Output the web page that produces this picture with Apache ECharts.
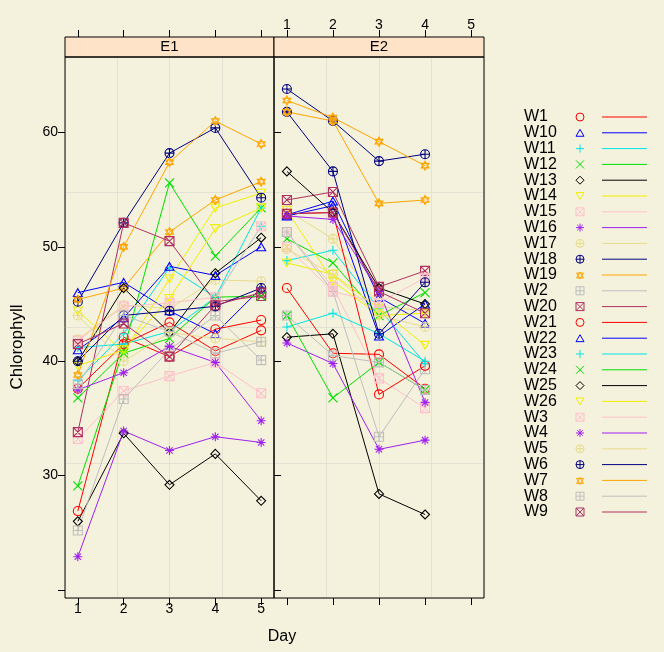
<!DOCTYPE html>
<html><head><meta charset="utf-8">
<script src="https://cdn.jsdelivr.net/npm/echarts@6/dist/echarts.min.js"></script>
<style>html,body{margin:0;padding:0;background:#F4F2DC;}#c{width:664px;height:652px;}</style>
</head><body><div id="c"></div>
<script>
// ---------- data ----------
const days = [1, 2, 3, 4, 5];
const xTicks = [1, 2, 3, 4, 5];
const yTicks = [20, 30, 40, 50, 60];
const yTickLabels = [30, 40, 50, 60];
const panels = ['E1', 'E2'];
const seriesNames = ['W1','W10','W11','W12','W13','W14','W15','W16','W17','W18','W19','W2','W20',
                     'W21','W22','W23','W24','W25','W26','W3','W4','W5','W6','W7','W8','W9'];

// panel E1 (days 1-5)
const W1_E1  = [26.9, 42.1, 40.4, 42.8, 43.6];
const W10_E1 = [46.0, 46.9, 44.4, 42.4, 46.4];
const W11_E1 = [38.3, 42.4, 48.2, 45.6, 51.8];
const W12_E1 = [29.1, 41.0, 55.6, 49.2, 53.4];
const W13_E1 = [26.0, 33.7, 29.2, 31.9, 27.8];
const W14_E1 = [44.4, 40.8, 47.2, 53.4, 54.7];
const W15_E1 = [33.2, 37.4, 38.7, 39.9, 37.2];
const W16_E1 = [22.9, 33.9, 32.2, 33.4, 32.9];
const W17_E1 = [41.9, 44.9, 44.6, 47.1, 47.0];
const W18_E1 = [45.2, 52.1, 58.2, 60.4, 54.3];
const W19_E1 = [45.4, 46.4, 51.3, 54.1, 55.7];
const W2_E1  = [25.2, 36.7, 41.0, 44.0, 40.1];
const W20_E1 = [33.8, 52.1, 50.5, 45.2, 45.7];
const W21_E1 = [37.6, 41.5, 43.4, 40.9, 42.7];
const W22_E1 = [41.0, 43.8, 48.3, 47.5, 50.0];
const W23_E1 = [41.2, 41.5, 42.6, 45.6, 53.4];
const W24_E1 = [36.8, 40.7, 42.0, 45.6, 45.7];
const W25_E1 = [40.0, 46.4, 42.5, 47.7, 50.8];
const W26_E1 = [39.6, 41.0, 45.5, 51.6, 53.4];
const W3_E1  = [41.8, 44.8, 45.1, 45.6, 51.8];
const W4_E1  = [37.5, 39.0, 41.3, 39.9, 34.8];
const W5_E1  = [44.0, 40.0, 42.5, 42.0, 41.7];
const W6_E1  = [40.0, 44.0, 44.4, 44.8, 46.4];
const W7_E1  = [38.8, 50.0, 57.4, 61.0, 59.0];
const W8_E1  = [38.0, 44.0, 42.6, 40.7, 41.7];
const W9_E1  = [41.5, 43.3, 40.4, 44.9, 46.0];

// panel E2 (days 1-4)
const W1_E2  = [46.4, 40.7, 40.6, 37.6];
const W10_E2 = [52.8, 54.0, 45.6, 43.3];
const W11_E2 = [48.8, 49.7, 44.6, 39.8];
const W12_E2 = [50.7, 48.6, 44.0, 46.0];
const W13_E2 = [42.1, 42.4, 28.4, 26.6];
const W14_E2 = [53.2, 47.0, 44.0, 44.2];
const W15_E2 = [51.3, 46.5, 38.5, 35.9];
const W16_E2 = [41.6, 39.8, 32.3, 33.1];
const W17_E2 = [53.2, 50.7, 44.8, 44.4];
const W18_E2 = [63.8, 61.0, 57.5, 58.1];
const W19_E2 = [62.8, 61.3, 59.2, 57.1];
const W2_E2  = [51.3, 46.1, 33.4, 39.3];
const W20_E2 = [54.1, 54.8, 46.5, 47.9];
const W21_E2 = [52.9, 53.0, 37.1, 39.6];
const W22_E2 = [52.7, 53.6, 42.2, 45.0];
const W23_E2 = [43.0, 44.2, 42.4, 40.0];
const W24_E2 = [44.0, 36.8, 39.9, 37.5];
const W25_E2 = [56.6, 53.0, 46.4, 45.0];
const W26_E2 = [48.6, 47.6, 44.6, 41.4];
const W3_E2  = [50.0, 46.1, 45.1, 47.3];
const W4_E2  = [52.7, 52.4, 46.1, 36.4];
const W5_E2  = [49.8, 47.6, 44.0, 43.0];
const W6_E2  = [61.8, 56.6, 42.4, 46.9];
const W7_E2  = [61.8, 61.0, 53.8, 54.1];
const W8_E2  = [44.0, 40.5, 39.9, 37.5];
const W9_E2  = [52.9, 53.0, 46.1, 44.2];

const E1 = {W1:W1_E1,W10:W10_E1,W11:W11_E1,W12:W12_E1,W13:W13_E1,W14:W14_E1,W15:W15_E1,W16:W16_E1,W17:W17_E1,
  W18:W18_E1,W19:W19_E1,W2:W2_E1,W20:W20_E1,W21:W21_E1,W22:W22_E1,W23:W23_E1,W24:W24_E1,W25:W25_E1,W26:W26_E1,
  W3:W3_E1,W4:W4_E1,W5:W5_E1,W6:W6_E1,W7:W7_E1,W8:W8_E1,W9:W9_E1};
const E2 = {W1:W1_E2,W10:W10_E2,W11:W11_E2,W12:W12_E2,W13:W13_E2,W14:W14_E2,W15:W15_E2,W16:W16_E2,W17:W17_E2,
  W18:W18_E2,W19:W19_E2,W2:W2_E2,W20:W20_E2,W21:W21_E2,W22:W22_E2,W23:W23_E2,W24:W24_E2,W25:W25_E2,W26:W26_E2,
  W3:W3_E2,W4:W4_E2,W5:W5_E2,W6:W6_E2,W7:W7_E2,W8:W8_E2,W9:W9_E2};

// ---------- styles ----------
const palette = ['#FF0000','#0000FF','#00E5E5','#00E000','#000000','#F0F000','#FFC0CB','#A020F0',
                 '#E8DC8C','#000080','#FFA500','#BEBEBE','#B03060'];
const C = 'M0,5A5,5 0 1,0 10,5A5,5 0 1,0 0,5Z';
const shapes = [
  C,
  'M5,0L10,8.66L0,8.66Z',
  'M5,0L5,10M0,5L10,5',
  'M0,0L10,10M10,0L0,10',
  'M5,0L10,5L5,10L0,5Z',
  'M0,0L10,0L5,8.66Z',
  'M0,0L10,0L10,10L0,10ZM0,0L10,10M10,0L0,10',
  'M5,0L5,10M0,5L10,5M1.5,1.5L8.5,8.5M8.5,1.5L1.5,8.5',
  C + 'M5,0L5,10M0,5L10,5',
  C + 'M5,0L5,10M0,5L10,5',
  'M5,0L9.33,7.5L0.67,7.5ZM5,10L0.67,2.5L9.33,2.5Z',
  'M0,0L10,0L10,10L0,10ZM5,0L5,10M0,5L10,5',
  'M0,0L10,0L10,10L0,10ZM0,0L10,10M10,0L0,10'
];
const FONT = '"Liberation Sans", Arial, Helvetica, sans-serif';
const BG = '#F4F2DC';
const STRIP = '#FFE3C8';
const GRIDC = '#E4E2D4';
const YMIN = 19.3, YMAX = 66.6, XMIN = 0.72, XMAX = 5.28;
const G = [{left:65, top:57, width:209, height:541}, {left:274, top:57, width:210, height:541}];

function xMain(gi, pos, labels, offset, margin) {
  return {type:'value', gridIndex:gi, position:pos, offset:offset||0, min:XMIN, max:XMAX,
    axisLine:{show:false}, splitLine:{show:false},
    axisTick:{show:true, length:7, inside:false, lineStyle:{color:'#000', width:1}, customValues:xTicks},
    axisLabel:{show:labels, customValues:xTicks, color:'#000', fontSize:14, fontFamily:FONT, margin:margin}};
}
function yMain(gi, pos, labels) {
  return {type:'value', gridIndex:gi, position:pos, min:YMIN, max:YMAX,
    axisLine:{show:false}, splitLine:{show:false},
    axisTick:{show:true, length:7, inside:false, lineStyle:{color:'#000', width:1}, customValues:yTicks},
    axisLabel:{show:labels, customValues:yTickLabels, color:'#000', fontSize:14, fontFamily:FONT, margin:7}};
}
function helper(gi, pos) {
  return {type:'value', gridIndex:gi, position:pos, min:0, max:4, interval:1,
    axisLine:{show:false}, axisTick:{show:false}, axisLabel:{show:false},
    splitLine:{show:true, lineStyle:{color:GRIDC, width:1}}};
}

const xAxis = [
  xMain(0, 'bottom', true, 0, 4), xMain(0, 'top', false, 20, 5), helper(0, 'bottom'),
  xMain(1, 'bottom', false, 0, 4), xMain(1, 'top', true, 20, 5), helper(1, 'bottom')
];
const yAxis = [
  yMain(0, 'left', true), helper(0, 'left'),
  yMain(1, 'right', false), helper(1, 'right')
];

const series = [];
seriesNames.forEach((name, i) => {
  const col = palette[i % 13], shp = shapes[i % 13];
  [[E1, 0, 0], [E2, 3, 2]].forEach(([src, xi, yi]) => {
    series.push({
      name: name, type:'line', xAxisIndex:xi, yAxisIndex:yi,
      data: src[name].map((v, k) => [days[k], v]),
      symbol:'path://' + shp, symbolSize:9, symbolKeepAspect:true, showSymbol:true,
      itemStyle:{color:'rgba(0,0,0,0)', borderColor:col, borderWidth:1.1},
      lineStyle:{color:col, width:1}, emphasis:{disabled:true}, silent:true, z:3
    });
  });
});

function keySymbol(shp, cx, cy, size, col) {
  const s = size / 10, ox = cx - size/2, oy = cy - size/2;
  const out = [];
  const st = {fill:'none', stroke:col, lineWidth:1};
  let rest = shp;
  if (rest.indexOf(C) === 0) {
    out.push({type:'circle', shape:{cx:cx, cy:cy, r:size/2}, style:st});
    rest = rest.slice(C.length);
  }
  rest.split('M').filter(t => t.length).forEach(sub => {
    const closed = /Z$/.test(sub);
    const pts = sub.replace('Z','').split('L').map(p => {
      const a = p.split(',').map(Number); return [ox + a[0]*s, oy + a[1]*s];
    });
    if (closed) {
      const ys = pts.map(p => p[1]); const h = Math.max(...ys) - Math.min(...ys);
      const dy = h < size*0.95 ? (size - h) / 2 : 0;
      out.push({type:'polygon', shape:{points:pts.map(p => [p[0], p[1] + (Math.min(...ys) === oy ? dy : 0)])}, style:st});
    } else {
      out.push({type:'polyline', shape:{points:pts}, style:st});
    }
  });
  return out;
}

const graphic = [];
panels.forEach((p, k) => {
  const g = G[k];
  graphic.push({type:'rect', z:50, shape:{x:g.left, y:g.top-20, width:g.width, height:20},
    style:{fill:STRIP, stroke:'#000', lineWidth:1}});
  graphic.push({type:'text', z:51, x:g.left + g.width/2, y:g.top-10,
    style:{text:p, fill:'#000', font:'15px ' + FONT, textAlign:'center', verticalAlign:'middle', textVerticalAlign:'middle'}});
  graphic.push({type:'rect', z:50, shape:{x:g.left, y:g.top, width:g.width, height:g.height},
    style:{fill:'none', stroke:'#000', lineWidth:1}});
});
graphic.push({type:'text', x:17, y:347, rotation:Math.PI/2,
  style:{text:'Chlorophyll', fill:'#000', font:'17px ' + FONT, textAlign:'center', verticalAlign:'middle', textVerticalAlign:'middle'}});
graphic.push({type:'text', x:282, y:637,
  style:{text:'Day', fill:'#000', font:'16px ' + FONT, textAlign:'center', verticalAlign:'middle', textVerticalAlign:'middle'}});
const KY0 = 117, KDY = 15.8;
seriesNames.forEach((name, i) => {
  const yy = KY0 + i*KDY, col = palette[i % 13];
  graphic.push({type:'text', x:524, y:yy,
    style:{text:name, fill:'#000', font:'16px ' + FONT, textAlign:'left', verticalAlign:'middle', textVerticalAlign:'middle'}});
  keySymbol(shapes[i % 13], 580, yy, 8, col).forEach(e => graphic.push(e));
  graphic.push({type:'line', shape:{x1:602, y1:yy, x2:647, y2:yy}, style:{stroke:col, lineWidth:1}});
});

const chart = echarts.init(document.getElementById('c'), null, {renderer:'canvas'});
chart.setOption({
  backgroundColor: BG,
  animation:false,
  grid: G.map(g => Object.assign({show:false}, g)),
  xAxis, yAxis, series, graphic
});
</script></body></html>
